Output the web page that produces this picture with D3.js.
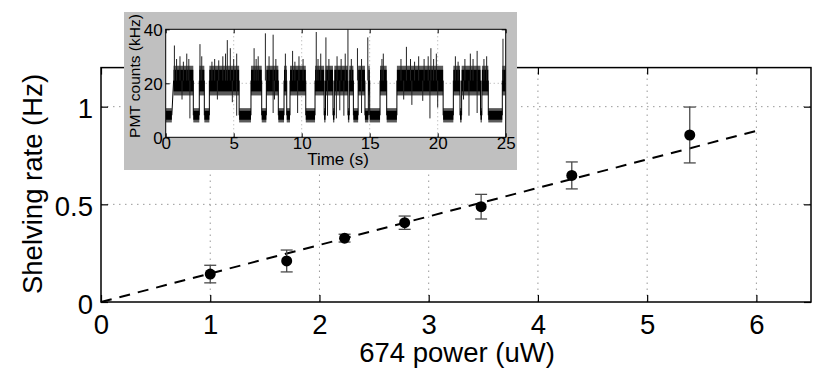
<!DOCTYPE html>
<html>
<head>
<meta charset="utf-8">
<script src="https://cdn.jsdelivr.net/npm/d3@7"></script>
<style>
body { margin: 0; background: #fff; }
svg { display: block; font-family: "Liberation Sans", Arial, sans-serif; }
</style>
</head>
<body>
<div id="chart"></div>
<script>
// main plot: shelving rate vs 674 power
var power = [1.0, 1.7, 2.23, 2.78, 3.48, 4.31, 5.39];
var rate = [0.143, 0.21, 0.327, 0.406, 0.488, 0.648, 0.855];
var rateErr = [0.045, 0.056, 0.02, 0.034, 0.063, 0.069, 0.143];
var fitPower = [0, 6];
var fitRate = [0, 0.876];
var xTicks = [0, 1, 2, 3, 4, 5, 6];
var yTicks = [0, 0.5, 1];

// inset: PMT counts trace
var timeTicks = [0, 5, 10, 15, 20, 25];
var countTicks = [0, 20, 40];
// [start (s), end (s), state]  L = shelved (dark), H = bright
var traceSegments = [
	[0.00, 0.45, "L"], [0.58, 2.03, "H"], [2.03, 2.47, "L"], [2.47, 2.84, "H"],
	[2.84, 3.21, "L"], [3.21, 5.40, "H"], [5.40, 6.27, "L"], [6.27, 7.06, "H"],
	[7.06, 7.40, "L"], [7.40, 8.28, "H"], [8.28, 8.70, "L"], [8.70, 8.90, "H"],
	[8.90, 9.14, "L"], [9.14, 10.30, "H"], [10.30, 10.98, "L"], [10.98, 11.65, "H"],
	[11.65, 11.75, "L"], [11.75, 12.30, "H"], [12.30, 12.40, "L"], [12.40, 13.40, "H"],
	[13.40, 13.50, "L"], [13.50, 13.80, "H"], [13.80, 14.15, "L"], [14.15, 14.65, "H"],
	[14.65, 14.90, "L"], [14.90, 15.00, "H"], [15.00, 15.76, "L"], [15.76, 16.25, "H"],
	[16.25, 17.00, "L"], [17.00, 20.40, "H"], [20.40, 21.15, "L"], [21.15, 21.64, "H"],
	[21.64, 21.76, "L"], [21.76, 23.15, "H"], [23.15, 23.25, "L"], [23.25, 23.72, "H"],
	[23.72, 24.75, "L"], [24.75, 25.00, "H"]
];
// noise envelope of each state (kHz): [fringe low, core low, core high, fringe high]
var bandL = [5.5, 6.5, 9.8, 10.8];
var bandH = [15.5, 17.0, 25.0, 26.5];
// single-sample spikes [time, counts]
var upSpikes = [
	[0.64, 34], [0.8, 29], [1.05, 30], [1.3, 28], [1.55, 31], [1.7, 29], [2.52, 34.5],
	[2.65, 30], [3.4, 28], [3.6, 29], [3.9, 28.5], [4.2, 30], [4.4, 31], [4.53, 36],
	[4.75, 33], [5.0, 29], [5.22, 31], [6.5, 33], [6.65, 29], [6.8, 30], [7.33, 38.5],
	[7.6, 30], [7.9, 38], [8.1, 29], [8.8, 31], [9.33, 32], [9.5, 28], [9.8, 30],
	[10.1, 29], [11.07, 39], [11.2, 29], [11.4, 31], [11.78, 37], [12.0, 29], [12.6, 30],
	[12.9, 29], [13.2, 31], [13.4, 40], [13.65, 29], [14.1, 33], [14.4, 29], [14.86, 37],
	[15.9, 29], [16.0, 31], [17.3, 29], [17.7, 33.5], [18.0, 29], [18.3, 28], [18.6, 30],
	[19.0, 29], [19.3, 30], [19.5, 33], [19.7, 29], [19.9, 31], [21.3, 30], [21.5, 28],
	[22.0, 29], [22.4, 31], [22.6, 29], [22.9, 32], [23.4, 29], [23.6, 30], [24.8, 36.5]
];
var downSpikes = [
	[1.78, 7], [5.22, 8], [7.9, 9], [9.7, 9], [11.9, 8], [12.55, 7], [12.8, 10],
	[13.1, 8], [14.4, 9], [19.43, 7], [20.0, 11], [22.3, 8], [22.9, 9], [18.1, 12],
	[1.2, 14], [3.8, 14], [4.9, 13], [8.0, 14], [17.5, 14], [18.9, 13.5], [21.9, 14]
];

var width = 830, height = 382;
var svg = d3.select("#chart").append("svg")
	.attr("width", width)
	.attr("height", height);

var x = d3.scaleLinear().domain([0, 6.5]).range([101, 811]);
var y = d3.scaleLinear().domain([0, 1.2]).range([302, 67.6]);

// dotted grid
svg.append("g").selectAll("line")
	.data(xTicks.slice(1))
	.enter().append("line")
	.attr("x1", function(d){ return x(d); })
	.attr("x2", function(d){ return x(d); })
	.attr("y1", y(0)).attr("y2", y(1.2))
	.style("stroke", "#999").style("stroke-width", 1)
	.style("stroke-dasharray", "1.5,4.5");
svg.append("g").selectAll("line")
	.data(yTicks.slice(1))
	.enter().append("line")
	.attr("x1", x(0)).attr("x2", x(6.5))
	.attr("y1", function(d){ return y(d); })
	.attr("y2", function(d){ return y(d); })
	.style("stroke", "#999").style("stroke-width", 1)
	.style("stroke-dasharray", "1.5,4.5");

// axes, ticks pointing inward on all four sides
var fmt = function(d){ return String(d); };
var xAxis = svg.append("g")
	.attr("transform", "translate(0," + y(0) + ")")
	.call(d3.axisBottom(x).tickValues(xTicks).tickSize(-7).tickSizeOuter(0).tickPadding(12).tickFormat(fmt));
svg.append("g")
	.attr("transform", "translate(0," + y(1.2) + ")")
	.call(d3.axisTop(x).tickValues(xTicks).tickSize(-7).tickSizeOuter(0).tickFormat(""));
var yAxis = svg.append("g")
	.attr("transform", "translate(" + x(0) + ",0)")
	.call(d3.axisLeft(y).tickValues(yTicks).tickSize(-7).tickSizeOuter(0).tickPadding(8).tickFormat(fmt));
svg.append("g")
	.attr("transform", "translate(" + x(6.5) + ",0)")
	.call(d3.axisRight(y).tickValues(yTicks).tickSize(-7).tickSizeOuter(0).tickFormat(""));
svg.selectAll(".domain").remove();
svg.selectAll(".tick line").style("stroke-width", 1.2);
xAxis.selectAll("text")
	.attr("font-size", 27.5).attr("font-family", "Liberation Sans, Arial, sans-serif")
	.attr("fill", "#000");
yAxis.selectAll("text")
	.attr("font-size", 27.5).attr("font-family", "Liberation Sans, Arial, sans-serif")
	.attr("fill", "#000").attr("dy", "0.4em");

svg.append("rect")
	.attr("x", x(0)).attr("y", y(1.2))
	.attr("width", x(6.5) - x(0)).attr("height", y(0) - y(1.2))
	.style("fill", "none").style("stroke", "#000").style("stroke-width", 1.5);

// axis labels
svg.append("text")
	.attr("x", 457).attr("y", 362)
	.attr("text-anchor", "middle")
	.attr("font-size", 27.5)
	.text("674 power (uW)");
svg.append("text")
	.attr("transform", "translate(42,184) rotate(-90)")
	.attr("text-anchor", "middle")
	.attr("font-size", 27.5)
	.text("Shelving rate (Hz)");

// linear fit
var fitLine = d3.line()
	.x(function(d){ return x(d[0]); })
	.y(function(d){ return y(d[1]); });
svg.append("path")
	.datum(d3.zip(fitPower, fitRate))
	.attr("d", fitLine)
	.style("fill", "none").style("stroke", "#000").style("stroke-width", 2)
	.style("stroke-dasharray", "11,8");

// error bars and points
var pts = d3.zip(power, rate, rateErr);
var bars = svg.append("g").style("stroke", "#4a4a4a").style("stroke-width", 1.3);
bars.selectAll("line.v").data(pts).enter().append("line").attr("class", "v")
	.attr("x1", function(d){ return x(d[0]); }).attr("x2", function(d){ return x(d[0]); })
	.attr("y1", function(d){ return y(d[1] - d[2]); })
	.attr("y2", function(d){ return y(d[1] + d[2]); });
bars.selectAll("line.t").data(pts).enter().append("line").attr("class", "t")
	.attr("x1", function(d){ return x(d[0]) - 6; }).attr("x2", function(d){ return x(d[0]) + 6; })
	.attr("y1", function(d){ return y(d[1] + d[2]); })
	.attr("y2", function(d){ return y(d[1] + d[2]); });
bars.selectAll("line.b").data(pts).enter().append("line").attr("class", "b")
	.attr("x1", function(d){ return x(d[0]) - 6; }).attr("x2", function(d){ return x(d[0]) + 6; })
	.attr("y1", function(d){ return y(d[1] - d[2]); })
	.attr("y2", function(d){ return y(d[1] - d[2]); });
svg.append("g").selectAll("circle")
	.data(pts).enter().append("circle")
	.attr("cx", function(d){ return x(d[0]); })
	.attr("cy", function(d){ return y(d[1]); })
	.attr("r", 5.5)
	.style("fill", "#000");

// ---- inset ----
var inset = svg.append("g");
inset.append("rect")
	.attr("x", 124).attr("y", 12).attr("width", 393).attr("height", 158)
	.style("fill", "#c0c0c0");

var ix = d3.scaleLinear().domain([0, 25]).range([165.7, 505.7]);
var iy = d3.scaleLinear().domain([0, 40]).range([137.3, 29.3]);

inset.append("rect")
	.attr("x", ix(0)).attr("y", iy(40))
	.attr("width", ix(25) - ix(0)).attr("height", iy(0) - iy(40))
	.style("fill", "#fff");

svg.append("clipPath").attr("id", "insetClip")
	.append("rect")
	.attr("x", ix(0)).attr("y", iy(40))
	.attr("width", ix(25) - ix(0)).attr("height", iy(0) - iy(40));

inset.append("g").selectAll("line")
	.data(timeTicks.slice(1, -1))
	.enter().append("line")
	.attr("x1", function(d){ return ix(d); }).attr("x2", function(d){ return ix(d); })
	.attr("y1", iy(0)).attr("y2", iy(40))
	.style("stroke", "#aaa").style("stroke-dasharray", "1,3");
inset.append("line")
	.attr("x1", ix(0)).attr("x2", ix(25))
	.attr("y1", iy(20)).attr("y2", iy(20))
	.style("stroke", "#aaa").style("stroke-dasharray", "1,3");

var trace = inset.append("g").attr("clip-path", "url(#insetClip)");
function band(s){ return s === "H" ? bandH : bandL; }
function mid(s){ var b = band(s); return (b[1] + b[2]) / 2; }

// outer noise fringe (grey) then core (black)
trace.selectAll("rect.fringe").data(traceSegments).enter().append("rect").attr("class", "fringe")
	.attr("x", function(d){ return ix(d[0]); })
	.attr("width", function(d){ return ix(d[1]) - ix(d[0]); })
	.attr("y", function(d){ return iy(band(d[2])[3]); })
	.attr("height", function(d){ return iy(band(d[2])[0]) - iy(band(d[2])[3]); })
	.style("fill", "#5a5a5a");
trace.selectAll("rect.core").data(traceSegments).enter().append("rect").attr("class", "core")
	.attr("x", function(d){ return ix(d[0]); })
	.attr("width", function(d){ return ix(d[1]) - ix(d[0]); })
	.attr("y", function(d){ return iy(band(d[2])[2]); })
	.attr("height", function(d){ return iy(band(d[2])[1]) - iy(band(d[2])[2]); })
	.style("fill", "#000");

// jumps between states
var jumps = d3.pairs(traceSegments);
trace.selectAll("line.jump").data(jumps).enter().append("line").attr("class", "jump")
	.attr("x1", function(d){ return ix(d[0][1]); })
	.attr("x2", function(d){ return ix(d[1][0]); })
	.attr("y1", function(d){ return iy(mid(d[0][2])); })
	.attr("y2", function(d){ return iy(mid(d[1][2])); })
	.style("stroke", "#000").style("stroke-width", 1);

trace.selectAll("line.up").data(upSpikes).enter().append("line").attr("class", "up")
	.attr("x1", function(d){ return ix(d[0]); }).attr("x2", function(d){ return ix(d[0]); })
	.attr("y1", iy(mid("H"))).attr("y2", function(d){ return iy(d[1]); })
	.style("stroke", "#222").style("stroke-width", 1);
trace.selectAll("line.down").data(downSpikes).enter().append("line").attr("class", "down")
	.attr("x1", function(d){ return ix(d[0]); }).attr("x2", function(d){ return ix(d[0]); })
	.attr("y1", iy(mid("H"))).attr("y2", function(d){ return iy(d[1]); })
	.style("stroke", "#222").style("stroke-width", 1);

// inset axes
var ixAxis = inset.append("g")
	.attr("transform", "translate(0," + iy(0) + ")")
	.call(d3.axisBottom(ix).tickValues(timeTicks).tickSize(-4).tickSizeOuter(0).tickPadding(0).tickFormat(fmt));
inset.append("g")
	.attr("transform", "translate(0," + iy(40) + ")")
	.call(d3.axisTop(ix).tickValues(timeTicks).tickSize(-4).tickSizeOuter(0).tickFormat(""));
var iyAxis = inset.append("g")
	.attr("transform", "translate(" + ix(0) + ",0)")
	.call(d3.axisLeft(iy).tickValues(countTicks).tickSize(-4).tickSizeOuter(0).tickPadding(3).tickFormat(fmt));
inset.append("g")
	.attr("transform", "translate(" + ix(25) + ",0)")
	.call(d3.axisRight(iy).tickValues(countTicks).tickSize(-4).tickSizeOuter(0).tickFormat(""));
inset.selectAll(".domain").remove();
inset.selectAll("text")
	.attr("font-size", 17).attr("font-family", "Liberation Sans, Arial, sans-serif")
	.attr("fill", "#000");
iyAxis.selectAll("text").attr("dy", "0.38em");

inset.append("rect")
	.attr("x", ix(0)).attr("y", iy(40))
	.attr("width", ix(25) - ix(0)).attr("height", iy(0) - iy(40))
	.style("fill", "none").style("stroke", "#000").style("stroke-width", 1);

inset.append("text")
	.attr("x", 338).attr("y", 165)
	.attr("text-anchor", "middle")
	.attr("font-size", 17)
	.text("Time (s)");
inset.append("text")
	.attr("transform", "translate(140,76) rotate(-90)")
	.attr("text-anchor", "middle")
	.attr("font-size", 15.5)
	.text("PMT counts (kHz)");
</script>
</body>
</html>
